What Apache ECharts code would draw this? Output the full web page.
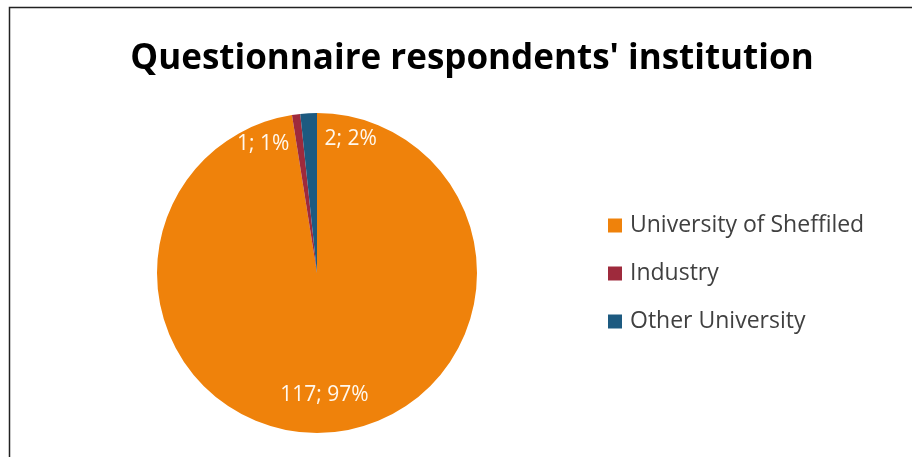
<!DOCTYPE html>
<html><head><meta charset="utf-8">
<script src="https://cdn.jsdelivr.net/npm/echarts@6/dist/echarts.min.js"></script>
<style>html,body{margin:0;padding:0;background:#fff}#c{width:912px;height:457px}</style>
</head><body><div id="c"></div>
<script>
const categories = ["University of Sheffiled", "Industry", "Other University"];
const counts = [117, 1, 2];
const percents = [97, 1, 2];
const colors = ["#EF820B", "#9E2A3C", "#1D5A80"];
const labelOffsets = [[1, 39], [-43, -47], [38, -51]];

const chart = echarts.init(document.getElementById('c'));
chart.setOption({
  animation: false,
  title: {
    text: "Questionnaire respondents' institution",
    left: 467, top: 37, textAlign: 'center',
    textStyle: {fontFamily: 'Open Sans', fontWeight: 'bold', fontSize: 35, color: '#000'}
  },
  legend: {
    orient: 'vertical', left: 608, top: 214, padding: 0,
    itemWidth: 14, itemHeight: 14, itemGap: 25, icon: 'rect',
    textStyle: {fontFamily: 'Open Sans', fontSize: 23, color: '#404040', padding: [0,0,0,3]},
    data: categories
  },
  graphic: [{
    type: 'rect', shape: {x: 9.5, y: 7.5, width: 1000, height: 1000},
    style: {fill: 'none', stroke: '#222', lineWidth: 1.5}, silent: true
  }],
  series: [{
    type: 'pie', center: [317, 273], radius: 160, startAngle: 90, clockwise: true,
    label: {
      position: 'inside', fontFamily: 'Open Sans', fontSize: 21, color: '#FFF8EE',
      formatter: p => counts[p.dataIndex] + '; ' + percents[p.dataIndex] + '%'
    },
    labelLine: {show: false},
    itemStyle: {borderWidth: 0},
    data: categories.map((c, i) => ({
      name: c, value: counts[i],
      itemStyle: {color: colors[i]},
      label: {offset: labelOffsets[i]}
    }))
  }]
});
</script></body></html>
